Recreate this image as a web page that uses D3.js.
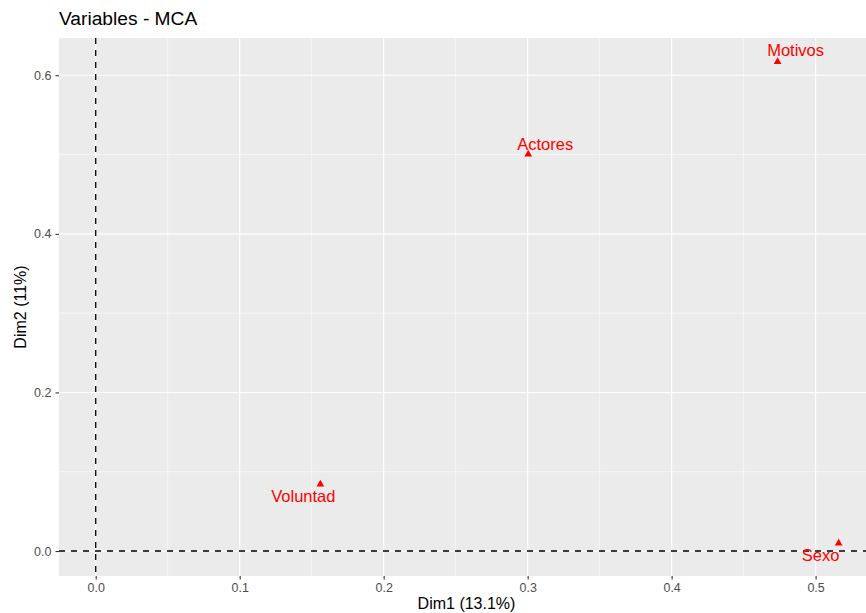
<!DOCTYPE html>
<html>
<head>
<meta charset="utf-8">
<script src="https://cdn.jsdelivr.net/npm/d3@7"></script>
<style>
  body { margin: 0; background: #fff; }
  text { font-family: "Liberation Sans", Arial, sans-serif; }
</style>
</head>
<body>
<div class="mca-wrapper"></div>
<script>
// variable coordinates on Dim1 / Dim2
const names = ["Motivos", "Actores", "Voluntad", "Sexo"];
const dim1 = [0.4736, 0.3004, 0.156, 0.516];
const dim2 = [0.617, 0.5003, 0.0841, 0.0097];
// label nudges (ggrepel style), in px
const labelDx = [18, 17, -17, -18];
const labelDy = [-6, -4, 18, 18];

const xTicks = [0, 0.1, 0.2, 0.3, 0.4, 0.5];
const xMinor = [0.05, 0.15, 0.25, 0.35, 0.45];
const yTicks = [0, 0.2, 0.4, 0.6];
const yMinor = [0.1, 0.3, 0.5];

const width = 866, height = 613;
const panel = {left: 59, top: 38, right: 866, bottom: 576};

let x = d3.scaleLinear()
  .domain([-0.0255, 0.535])
  .range([panel.left, panel.right]);
let y = d3.scaleLinear()
  .domain([-0.0315, 0.647])
  .range([panel.bottom, panel.top]);

let svg = d3.select(".mca-wrapper")
  .append("svg")
  .attr("width", width)
  .attr("height", height);

svg.append("rect")
  .attr("x", panel.left)
  .attr("y", panel.top)
  .attr("width", panel.right - panel.left)
  .attr("height", panel.bottom - panel.top)
  .attr("fill", "#EBEBEB");

// minor grid
svg.selectAll(".xminor").data(xMinor).enter().append("line")
  .attr("x1", d => x(d)).attr("x2", d => x(d))
  .attr("y1", panel.top).attr("y2", panel.bottom)
  .attr("stroke", "#fff").attr("stroke-width", 0.55);
svg.selectAll(".yminor").data(yMinor).enter().append("line")
  .attr("y1", d => y(d)).attr("y2", d => y(d))
  .attr("x1", panel.left).attr("x2", panel.right)
  .attr("stroke", "#fff").attr("stroke-width", 0.55);
// major grid
svg.selectAll(".xmajor").data(xTicks).enter().append("line")
  .attr("x1", d => x(d)).attr("x2", d => x(d))
  .attr("y1", panel.top).attr("y2", panel.bottom)
  .attr("stroke", "#fff").attr("stroke-width", 1.1);
svg.selectAll(".ymajor").data(yTicks).enter().append("line")
  .attr("y1", d => y(d)).attr("y2", d => y(d))
  .attr("x1", panel.left).attr("x2", panel.right)
  .attr("stroke", "#fff").attr("stroke-width", 1.1);

// axes
let xAxis = svg.append("g")
  .attr("transform", `translate(0,${panel.bottom})`)
  .call(d3.axisBottom(x).tickValues(xTicks).tickFormat(d3.format(".1f")).tickSize(3.5).tickPadding(4));
let yAxis = svg.append("g")
  .attr("transform", `translate(${panel.left},0)`)
  .call(d3.axisLeft(y).tickValues(yTicks).tickFormat(d3.format(".1f")).tickSize(3.5).tickPadding(4));
[xAxis, yAxis].forEach(a => {
  a.select(".domain").remove();
  a.selectAll(".tick line").attr("stroke", "#333").attr("stroke-width", 1.1);
  a.selectAll(".tick text")
    .attr("fill", "#4D4D4D")
    .style("font-size", "12.5px")
    .style("font-family", "Liberation Sans, Arial, sans-serif");
});

// reference lines at zero
svg.append("line")
  .attr("x1", x(0)).attr("x2", x(0))
  .attr("y1", panel.top).attr("y2", panel.bottom)
  .attr("stroke", "#000").attr("stroke-width", 1.3)
  .attr("stroke-dasharray", "6,6");
svg.append("line")
  .attr("x1", panel.left).attr("x2", panel.right)
  .attr("y1", y(0)).attr("y2", y(0))
  .attr("stroke", "#000").attr("stroke-width", 1.3)
  .attr("stroke-dasharray", "6,6");

// points
let data = names.map((n, i) => ({name: n, x: dim1[i], y: dim2[i], dx: labelDx[i], dy: labelDy[i]}));
svg.selectAll(".pt").data(data).enter().append("path")
  .attr("d", d3.symbol().type(d3.symbolTriangle).size(26))
  .attr("transform", d => `translate(${x(d.x)},${y(d.y)})`)
  .attr("fill", "#FF0000");
svg.selectAll(".lab").data(data).enter().append("text")
  .attr("x", d => x(d.x) + d.dx)
  .attr("y", d => y(d.y) + d.dy)
  .attr("text-anchor", "middle")
  .attr("fill", "#FF0000")
  .style("font-size", "16.5px")
  .text(d => d.name);

// title and axis titles
svg.append("text")
  .attr("x", panel.left).attr("y", 25)
  .style("font-size", "19.2px")
  .attr("fill", "#000")
  .text("Variables - MCA");
svg.append("text")
  .attr("x", (panel.left + panel.right) / 2 + 4).attr("y", 609)
  .attr("text-anchor", "middle")
  .style("font-size", "16px")
  .text("Dim1 (13.1%)");
svg.append("text")
  .attr("transform", `translate(25.5,${(panel.top + panel.bottom) / 2}) rotate(-90)`)
  .attr("text-anchor", "middle")
  .style("font-size", "16px")
  .text("Dim2 (11%)");
</script>
</body>
</html>
